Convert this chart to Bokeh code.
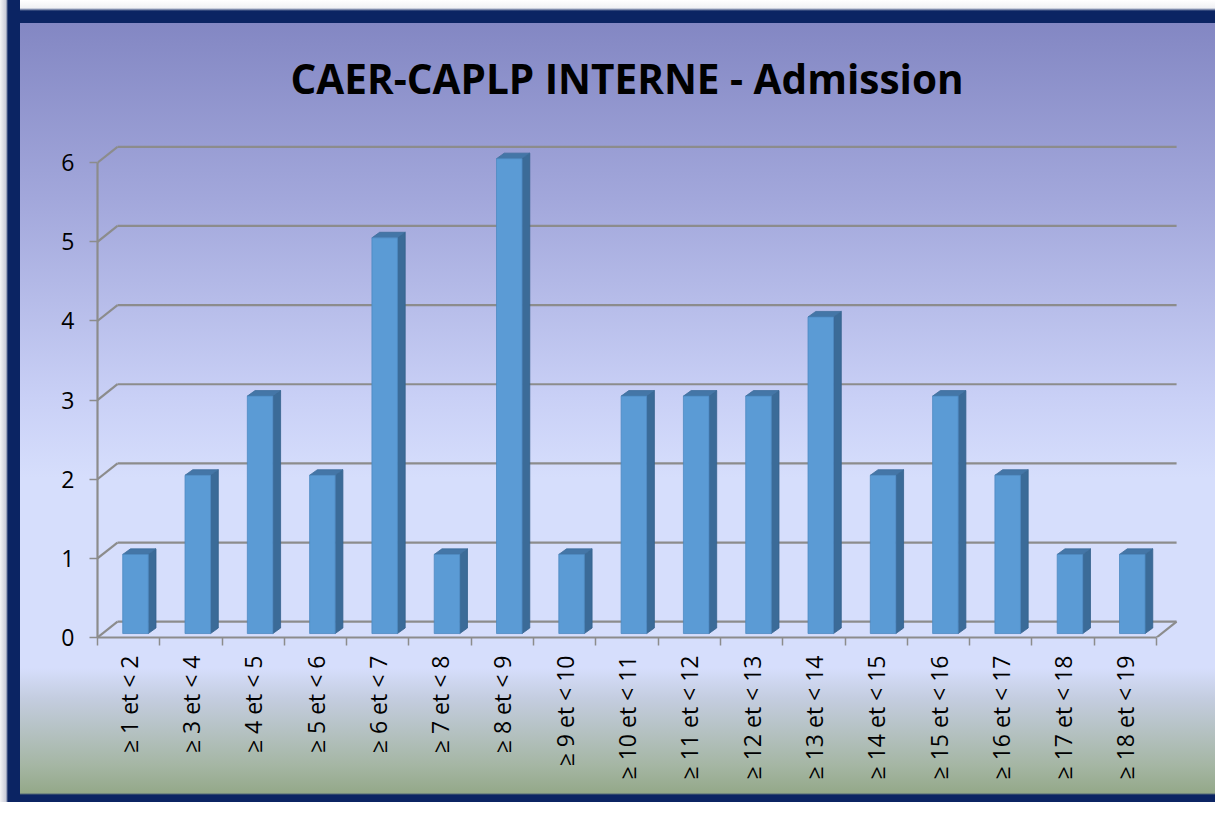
import math
from bokeh.plotting import figure
from bokeh.models import Range1d, FixedTicker
from bokeh.embed import file_html
from bokeh.resources import INLINE

# ---- data ----
categories = ["≥ 1 et < 2", "≥ 3 et < 4", "≥ 4 et < 5", "≥ 5 et < 6", "≥ 6 et < 7",
              "≥ 7 et < 8", "≥ 8 et < 9", "≥ 9 et < 10", "≥ 10 et < 11", "≥ 11 et < 12",
              "≥ 12 et < 13", "≥ 13 et < 14", "≥ 14 et < 15", "≥ 15 et < 16",
              "≥ 16 et < 17", "≥ 17 et < 18", "≥ 18 et < 19"]
counts = [1, 2, 3, 2, 5, 1, 6, 1, 3, 3, 3, 4, 2, 3, 2, 1, 1]
y_ticks = [0, 1, 2, 3, 4, 5, 6]
title_text = "CAER-CAPLP INTERNE - Admission"

# ---- style constants (3D look) ----
n = len(categories)
WALL_DX, WALL_DY = 0.321, 0.20      # back wall offset (data units)
BAR_W, BAR_SHIFT = 0.41, 0.11       # bar front face width / shift
BAR_BASE = 0.05
DEPTH_DX, DEPTH_DY = 0.124, 0.07    # bar side depth
GRID = "#8c8c8c"
NAVY = "#0b2463"

bg = ("linear-gradient(to right, #f4f4f6 0px, #c8cbd8 6px, %s 8px, %s 20px, transparent 20px), "
      "linear-gradient(to bottom, #ffffff 0px, #f0f1f4 8px, %s 11px, %s 23px, "
      "#8387c3 23px, #a2a7db 198px, #c9d0f6 398px, #d6defc 478px, #d6defc 668px, "
      "#c4cde0 698px, #a5b6a4 765px, #94a889 793px, %s 795px, %s 802px)"
      % (NAVY, NAVY, NAVY, NAVY, NAVY, NAVY))

p = figure(width=1215, height=802, output_backend="svg", toolbar_location=None,
           x_range=Range1d(0, 17.4), y_range=Range1d(0, 6.406),
           min_border_left=97, min_border_right=34, min_border_top=130,
           min_border_bottom=165)
p.styles = {"background": bg}
p.border_fill_color = None
p.background_fill_color = None
p.outline_line_color = None
p.grid.visible = False

p.title.text = title_text
p.title.text_font = "Open Sans"
p.title.text_font_style = "bold"
p.title.text_font_size = "40.5px"
p.title.text_color = "#000000"
p.title.align = "left"
p.title.offset = 193
p.title.standoff = 50

# ---- back wall grid lines ----
gx0, gy0, gx1, gy1 = [], [], [], []
for v in y_ticks:
    gx0 += [0, WALL_DX]
    gy0 += [v, v + WALL_DY]
    gx1 += [WALL_DX, n + WALL_DX]
    gy1 += [v + WALL_DY, v + WALL_DY]
gx0.append(n); gy0.append(0); gx1.append(n + WALL_DX); gy1.append(WALL_DY)
p.segment(gx0, gy0, gx1, gy1, line_color=GRID, line_width=2.2)

# ---- 3D bars ----
centers = [i + 0.5 for i in range(n)]
lefts = [c - BAR_W / 2 + BAR_SHIFT for c in centers]
rights = [c + BAR_W / 2 + BAR_SHIFT for c in centers]
tops = [v + BAR_BASE for v in counts]

side_xs = [[r, r + DEPTH_DX, r + DEPTH_DX, r] for r in rights]
side_ys = [[BAR_BASE, BAR_BASE + DEPTH_DY, t + DEPTH_DY, t] for t in tops]
top_xs = [[l, l + DEPTH_DX, r + DEPTH_DX, r] for l, r in zip(lefts, rights)]
top_ys = [[t, t + DEPTH_DY, t + DEPTH_DY, t] for t in tops]

p.patches(side_xs, side_ys, fill_color="#3b6b98", line_color="#34618b", line_width=0.8)
p.patches(top_xs, top_ys, fill_color="#4476a7", line_color="#3d6d9b", line_width=0.8)
p.quad(left=lefts, right=rights, bottom=BAR_BASE, top=tops,
       fill_color="#5b9bd5", line_color="#4c89c2", line_width=0.8)

# ---- axes ----
yax = p.yaxis[0]
yax.ticker = FixedTicker(ticks=y_ticks, minor_ticks=[])
yax.bounds = (0, 6)
yax.axis_line_color = GRID
yax.axis_line_width = 2.2
yax.major_tick_line_color = GRID
yax.major_tick_line_width = 1.5
yax.major_tick_out = 8
yax.major_tick_in = 0
yax.minor_tick_line_color = None
yax.major_label_standoff = 15
yax.major_label_text_font = "Open Sans"
yax.major_label_text_font_size = "23px"
yax.major_label_text_color = "#000000"

xax = p.xaxis[0]
xax.ticker = FixedTicker(ticks=centers, minor_ticks=list(range(n + 1)))
xax.major_label_overrides = {c: lab for c, lab in zip(centers, categories)}
xax.bounds = (0, n)
xax.axis_line_color = GRID
xax.axis_line_width = 2.2
xax.major_tick_line_color = None
xax.major_tick_out = 8
xax.major_tick_in = 0
xax.minor_tick_line_color = GRID
xax.minor_tick_line_width = 1.5
xax.minor_tick_out = 8
xax.minor_tick_in = 0
xax.major_label_orientation = math.pi / 2
xax.major_label_standoff = 10
xax.major_label_text_font = "Open Sans"
xax.major_label_text_font_size = "23px"
xax.major_label_text_color = "#000000"

open("out.html", "w").write(file_html(p, INLINE))
